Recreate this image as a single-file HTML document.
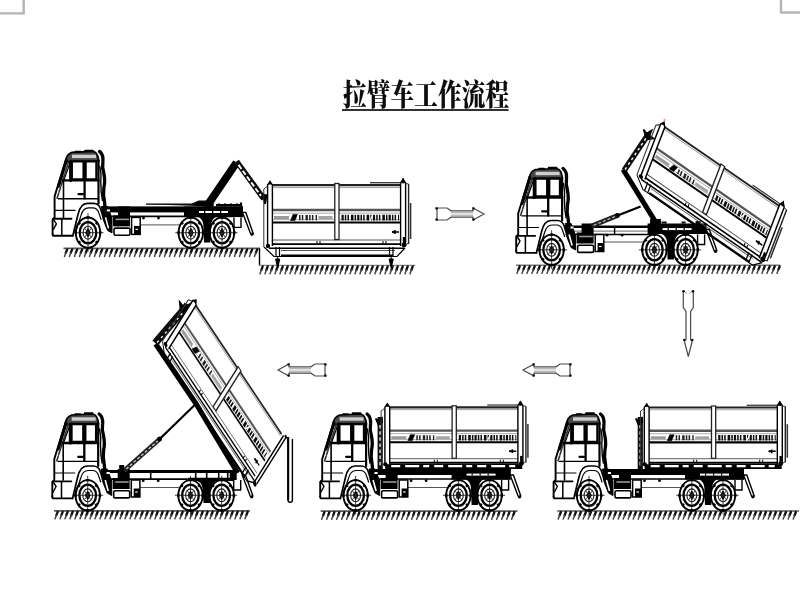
<!DOCTYPE html>
<html lang="zh"><head><meta charset="utf-8"><title>拉臂车工作流程</title>
<style>
html,body{margin:0;padding:0;background:#fff;}
body{width:800px;height:600px;overflow:hidden;position:relative;}
svg{position:absolute;left:0;top:0;display:block;}
.title{font-family:"Liberation Serif","Noto Serif CJK SC",serif;font-weight:900;font-size:23.6px;fill:#111;}
</style></head><body>
<svg width="800" height="600" viewBox="0 0 800 600">
<defs>
<filter id="soft2" x="0" y="0" width="800" height="600" filterUnits="userSpaceOnUse"><feGaussianBlur stdDeviation="0.35"/></filter>
<filter id="soft" x="0" y="0" width="800" height="600" filterUnits="userSpaceOnUse"><feGaussianBlur stdDeviation="0.55"/></filter>
<g id="w">
<g transform="translate(0,-15.7)">
<ellipse rx="12.2" ry="15.2" fill="#fff" stroke="#000" stroke-width="1.9"/>
<ellipse rx="8.3" ry="10.6" fill="none" stroke="#000" stroke-width="2.3"/>
<ellipse rx="4.9" ry="6.4" fill="none" stroke="#222" stroke-width="1.1"/>
<path d="M0,-4.2 L2.4,0 L0,4.2 L-2.4,0 Z" fill="#000" stroke="#000" stroke-width="1"/>
<path d="M0,-19.5 V19 M-15.5,0 H15.5" stroke="#111" stroke-width="0.8"/>
<path d="M-3.4,-4.6 L3.4,4.6 M3.4,-4.6 L-3.4,4.6" stroke="#333" stroke-width="0.9"/>
<path d="M-12.2,-1.6 v3.2 M12.2,-1.6 v3.2 M-1.6,-15.2 h3.2 M-1.6,15.2 h3.2 M-9.4,-10.4 l1.6,1.8 M9.4,-10.4 l-1.6,1.8 M-9.4,10.4 l1.6,-1.8 M9.4,10.4 l-1.6,-1.8" stroke="#000" stroke-width="2.4"/>
</g></g>

<g id="cab" fill="none" stroke="#000" stroke-linecap="round" stroke-linejoin="round">
<!-- cab body white backing -->
<path d="M-21,-90 L-33.4,-52 V-31 L-35.6,-28 V-13 H-15 L-9,-38 Q-7,-46 -1,-46 H7 Q10,-46 10.5,-44 V-90 Z" fill="#fff" stroke="none"/>
<!-- roof (dark band) -->
<path d="M-22.5,-86.5 Q-22,-94 -16,-96 L5,-97 Q10,-96.5 10.8,-87 Z" fill="#4a4a4a" stroke-width="1.7"/>
<path d="M-16,-92 H8" stroke="#cfcfcf" stroke-width="3.4" stroke-linecap="butt"/>
<path d="M-12.5,-96.8 H-7.5 M-3,-97.8 H5" stroke-width="1.8"/>
<!-- A pillar / front slope -->
<path d="M-22,-89 L-33.4,-52 V-31 L-35.4,-29 V-14.5" stroke-width="1.9"/>
<path d="M-21.6,-88 L-29.5,-62" stroke-width="3"/>
<path d="M-19.6,-86 L-31,-50" stroke-width="1.6" stroke="#333" stroke-dasharray="5 1.5"/>
<path d="M-17.8,-86 L-24.5,-67" stroke-width="1.2"/>
<path d="M-17.3,-87 V-68" stroke-width="3.2"/>
<!-- windows -->
<rect x="-16.2" y="-87" width="11.8" height="18" fill="#fff" stroke-width="2.3"/>
<rect x="-2.4" y="-87" width="10.8" height="18" fill="#fff" stroke-width="2.3"/>
<!-- window bottom bar -->
<path d="M-25,-68 H10.5" stroke-width="2.4"/>
<!-- pillar -->
<path d="M-3.4,-86 V-50" stroke-width="2.3"/>
<!-- door handle -->
<path d="M-9.5,-54.2 H-5" stroke-width="2.2"/>
<!-- door front edge -->
<path d="M-24.5,-67 V-31" stroke-width="1.6"/>
<!-- horizontal lines -->
<path d="M-29.6,-49.6 H10" stroke-width="1.4"/>
<path d="M-32.5,-38 H-13" stroke-width="1.2"/>
<path d="M-34.6,-29.6 H-16.5" stroke-width="1.9"/>
<!-- bumper -->
<path d="M-35.4,-14.5 Q-35.4,-12.6 -34,-12.6 H-15.2" stroke-width="1.9"/>
<path d="M-26.2,-29 V-13" stroke-width="1.5"/>
<path d="M-34.6,-29 l3,4.5 l-3,5.5" stroke-width="1.4"/>
<!-- wheel arch -->
<path d="M-15.2,-12.6 L-10,-34 Q-7.5,-45 -0.5,-45 H5.5 Q11,-45 12.8,-39 L15.8,-29" stroke-width="1.7"/>
<path d="M-12,-17 L-7,-33 Q-5,-40.5 0.5,-40.5 H4.5 Q9.5,-40.5 11,-35 L13,-29" stroke-width="1.2"/>
<!-- back wall -->
<path d="M10.5,-88 V-45" stroke-width="2.2"/>
<!-- exhaust/air stack -->
<path d="M11.5,-97 q4,3 3.4,10 q-1,6 1,12 q1.5,8 0,14 q-1,8 0.6,14 l0.8,9" stroke-width="3.3"/>
<path d="M11.8,-82 q2,8 1,16 q0,10 1.6,18" stroke-width="1.4"/>
</g>

<g id="box" fill="none" stroke="#000">
<rect x="2.5" y="-2" width="141" height="62" fill="#fff" stroke="none"/>
<!-- top rail -->
<path d="M7,0.2 H136" stroke-width="2.2" stroke="#222"/>
<path d="M7,2.6 H136" stroke-width="0.8" stroke="#888"/>
<!-- band -->
<path d="M7,25 H136" stroke-width="2.6" stroke="#555"/>
<path d="M7,28.2 H136" stroke-width="1" stroke="#aaa"/>
<path d="M7,37.5 H136" stroke-width="2.2"/>
<path d="M7,34.6 H136" stroke-width="0.8" stroke="#999"/>
<!-- lettering marks -->
<path d="M9,32.6 H24" stroke="#9a9a9a" stroke-width="3.2"/>
<path d="M28,29.4 l-2.4,6.2 h4.4 l2.4,-6.2 z" fill="#000" stroke-width="0.6"/>
<path d="M34,32.6 H52" stroke="#222" stroke-width="5.4" stroke-dasharray="1.5 1.3 1.5 2.2 2.4 1.2"/>
<path d="M53.5,32.6 H67.5" stroke="#a5a5a5" stroke-width="3.2"/>
<path d="M76.5,32.6 H134" stroke="#0a0a0a" stroke-width="5.8" stroke-dasharray="2.2 1.1 1.5 1.2 1.5 1.9 2.6 1.1 1.5 1.1"/>
<path d="M105,36 l3,-7" stroke="#fff" stroke-width="1.2"/>
<!-- bottom rails -->
<path d="M7,55 H136" stroke-width="0.9" stroke="#444"/>
<path d="M7,59.2 H136" stroke-width="1.8"/>
<path d="M52,56 v3 M55,56 v3 M118,56 v3 M121,56 v3" stroke-width="1" />
<!-- middle post -->
<rect x="69.8" y="-1.5" width="4.2" height="56" fill="#fff" stroke-width="1.3" stroke="#222"/>
<!-- front post -->
<path d="M2.6,61 V0 L5,-3.5 L7.4,0 V61" fill="#fff" stroke-width="1.4"/>
<path d="M3.8,-1 L5,-4 L6.2,-1 z" fill="#000" stroke-width="1"/>
<path d="M-1.2,4 V62" stroke-width="1" stroke="#333"/>
<path d="M-1.2,4 L2.6,1" stroke-width="1" stroke="#333"/>
<!-- latch -->
<path d="M127,47 H134 M130,45 V49" stroke-width="1.6"/>
<circle cx="128" cy="47" r="1.2" fill="#000" stroke="none"/>
<!-- corner blobs -->
<circle cx="3" cy="61" r="2.2" fill="#000" stroke="none"/>
</g>

<g id="rear" fill="none" stroke="#000">
<path d="M135.6,61 V-2 L138.1,-5.8 L140.6,-2 V61" fill="#fff" stroke-width="1.4"/>
<path d="M136.6,-2.2 L138.1,-6.6 L139.6,-2.2 z" fill="#000" stroke-width="1"/>
<path d="M143.6,-1 V59" stroke-width="1.4" stroke="#222"/>
<path d="M140.6,-1.5 L143.6,-1 M140.6,60 L143.6,58" stroke-width="1" stroke="#333"/>
<path d="M145.6,18 V54" stroke-width="1.5" stroke="#333"/>
<path d="M105,-2.3 H135.6" stroke-width="1.3" stroke="#333"/>
<circle cx="139" cy="60" r="2.4" fill="#000" stroke="none"/>
<path d="M139,52 V62" stroke-width="2.4"/>
</g>
<g id="rearopen" fill="none" stroke="#000">
<path d="M138.2,-1 V64 M141,-2 V63" stroke-width="1.3" fill="#fff"/>
<circle cx="139.4" cy="65" r="2.3" fill="#000" stroke="none"/>
<circle cx="140.5" cy="-2.5" r="1.6" fill="#000" stroke="none"/>
</g>

<g id="skid" fill="none" stroke="#000">
<path d="M-1,62 L9,71.5 H132 L140,63" stroke-width="1.2"/>
<path d="M4,63.2 H139" stroke-width="1.6"/>
<path d="M16,65.5 H130" stroke-width="1" stroke="#555"/>
<path d="M16,70.6 H128" stroke-width="2.2"/>
<path d="M11,62 V72 M14.5,62 V72 M124.5,62 V72 M128,62 V72" stroke-width="1.2"/>
</g>
</defs>
<rect width="800" height="600" fill="#fff"/>
<g filter="url(#soft2)"><g transform="translate(343,0) scale(1,1.25)"><text class="title" x="0" y="84" textLength="166" lengthAdjust="spacing">拉臂车工作流程</text></g>
<path d="M342,110 H508.5" stroke="#333" stroke-width="2.2"/></g>
<g id="drawing" filter="url(#soft)">
<path d="M0,13.4 H23.7 V0" fill="none" stroke="#b4b4b4" stroke-width="2.4" stroke-linejoin="round"/><path d="M800,12.5 H781 V0" fill="none" stroke="#b4b4b4" stroke-width="2.4" stroke-linejoin="round"/><path d="M63.5,248.4 H260" stroke="#5a5a5a" stroke-width="1.7"/><path d="M67.2,249.4 L65.8,252.8 M72.2,249.4 L70.8,252.8 M77.2,249.4 L75.8,252.8 M82.2,249.4 L80.8,252.8 M87.2,249.4 L85.8,252.8 M92.2,249.4 L90.8,252.8 M97.2,249.4 L95.8,252.8 M102.2,249.4 L100.8,252.8 M107.2,249.4 L105.8,252.8 M112.2,249.4 L110.8,252.8 M117.2,249.4 L115.8,252.8 M122.2,249.4 L120.8,252.8 M127.2,249.4 L125.8,252.8 M132.2,249.4 L130.8,252.8 M137.2,249.4 L135.8,252.8 M142.2,249.4 L140.8,252.8 M147.2,249.4 L145.8,252.8 M152.2,249.4 L150.8,252.8 M157.2,249.4 L155.8,252.8 M162.2,249.4 L160.8,252.8 M167.2,249.4 L165.8,252.8 M172.2,249.4 L170.8,252.8 M177.2,249.4 L175.8,252.8 M182.2,249.4 L180.8,252.8 M187.2,249.4 L185.8,252.8 M192.2,249.4 L190.8,252.8 M197.2,249.4 L195.8,252.8 M202.2,249.4 L200.8,252.8 M207.2,249.4 L205.8,252.8 M212.2,249.4 L210.8,252.8 M217.2,249.4 L215.8,252.8 M222.2,249.4 L220.8,252.8 M227.2,249.4 L225.8,252.8 M232.2,249.4 L230.8,252.8 M237.2,249.4 L235.8,252.8 M242.2,249.4 L240.8,252.8 M247.2,249.4 L245.8,252.8 M252.2,249.4 L250.8,252.8 M257.2,249.4 L255.8,252.8" stroke="#111" stroke-width="2.3" fill="none" stroke-linecap="round"/><path d="M65.8,252.8 L64.5,256.4 M70.8,252.8 L69.5,256.4 M75.8,252.8 L74.5,256.4 M80.8,252.8 L79.5,256.4 M85.8,252.8 L84.5,256.4 M90.8,252.8 L89.5,256.4 M95.8,252.8 L94.5,256.4 M100.8,252.8 L99.5,256.4 M105.8,252.8 L104.5,256.4 M110.8,252.8 L109.5,256.4 M115.8,252.8 L114.5,256.4 M120.8,252.8 L119.5,256.4 M125.8,252.8 L124.5,256.4 M130.8,252.8 L129.5,256.4 M135.8,252.8 L134.5,256.4 M140.8,252.8 L139.5,256.4 M145.8,252.8 L144.5,256.4 M150.8,252.8 L149.5,256.4 M155.8,252.8 L154.5,256.4 M160.8,252.8 L159.5,256.4 M165.8,252.8 L164.5,256.4 M170.8,252.8 L169.5,256.4 M175.8,252.8 L174.5,256.4 M180.8,252.8 L179.5,256.4 M185.8,252.8 L184.5,256.4 M190.8,252.8 L189.5,256.4 M195.8,252.8 L194.5,256.4 M200.8,252.8 L199.5,256.4 M205.8,252.8 L204.5,256.4 M210.8,252.8 L209.5,256.4 M215.8,252.8 L214.5,256.4 M220.8,252.8 L219.5,256.4 M225.8,252.8 L224.5,256.4 M230.8,252.8 L229.5,256.4 M235.8,252.8 L234.5,256.4 M240.8,252.8 L239.5,256.4 M245.8,252.8 L244.5,256.4 M250.8,252.8 L249.5,256.4 M255.8,252.8 L254.5,256.4" stroke="#444" stroke-width="1.5" fill="none" stroke-linecap="round"/><path d="M259.5,248.4 V265.5" stroke="#000" stroke-width="1.4"/><path d="M259,265.4 H415.4" stroke="#888" stroke-width="1.3"/><path d="M262.7,266.4 L261.4,270.0 M267.7,266.4 L266.4,270.0 M272.7,266.4 L271.4,270.0 M277.7,266.4 L276.4,270.0 M282.7,266.4 L281.4,270.0 M287.7,266.4 L286.4,270.0 M292.7,266.4 L291.4,270.0 M297.7,266.4 L296.4,270.0 M302.7,266.4 L301.4,270.0 M307.7,266.4 L306.4,270.0 M312.7,266.4 L311.4,270.0 M317.7,266.4 L316.4,270.0 M322.7,266.4 L321.4,270.0 M327.7,266.4 L326.4,270.0 M332.7,266.4 L331.4,270.0 M337.7,266.4 L336.4,270.0 M342.7,266.4 L341.4,270.0 M347.7,266.4 L346.4,270.0 M352.7,266.4 L351.4,270.0 M357.7,266.4 L356.4,270.0 M362.7,266.4 L361.4,270.0 M367.7,266.4 L366.4,270.0 M372.7,266.4 L371.4,270.0 M377.7,266.4 L376.4,270.0 M382.7,266.4 L381.4,270.0 M387.7,266.4 L386.4,270.0 M392.7,266.4 L391.4,270.0 M397.7,266.4 L396.4,270.0 M402.7,266.4 L401.4,270.0 M407.7,266.4 L406.4,270.0 M412.7,266.4 L411.4,270.0" stroke="#111" stroke-width="2.3" fill="none" stroke-linecap="round"/><path d="M261.4,270.0 L260.0,273.8 M266.4,270.0 L265.0,273.8 M271.4,270.0 L270.0,273.8 M276.4,270.0 L275.0,273.8 M281.4,270.0 L280.0,273.8 M286.4,270.0 L285.0,273.8 M291.4,270.0 L290.0,273.8 M296.4,270.0 L295.0,273.8 M301.4,270.0 L300.0,273.8 M306.4,270.0 L305.0,273.8 M311.4,270.0 L310.0,273.8 M316.4,270.0 L315.0,273.8 M321.4,270.0 L320.0,273.8 M326.4,270.0 L325.0,273.8 M331.4,270.0 L330.0,273.8 M336.4,270.0 L335.0,273.8 M341.4,270.0 L340.0,273.8 M346.4,270.0 L345.0,273.8 M351.4,270.0 L350.0,273.8 M356.4,270.0 L355.0,273.8 M361.4,270.0 L360.0,273.8 M366.4,270.0 L365.0,273.8 M371.4,270.0 L370.0,273.8 M376.4,270.0 L375.0,273.8 M381.4,270.0 L380.0,273.8 M386.4,270.0 L385.0,273.8 M391.4,270.0 L390.0,273.8 M396.4,270.0 L395.0,273.8 M401.4,270.0 L400.0,273.8 M406.4,270.0 L405.0,273.8 M411.4,270.0 L410.0,273.8" stroke="#444" stroke-width="1.5" fill="none" stroke-linecap="round"/><path d="M516,265.3 H780" stroke="#777" stroke-width="1.5"/><path d="M519.7,266.3 L518.4,269.7 M524.7,266.3 L523.4,269.7 M529.7,266.3 L528.4,269.7 M534.7,266.3 L533.4,269.7 M539.7,266.3 L538.4,269.7 M544.7,266.3 L543.4,269.7 M549.7,266.3 L548.4,269.7 M554.7,266.3 L553.4,269.7 M559.7,266.3 L558.4,269.7 M564.7,266.3 L563.4,269.7 M569.7,266.3 L568.4,269.7 M574.7,266.3 L573.4,269.7 M579.7,266.3 L578.4,269.7 M584.7,266.3 L583.4,269.7 M589.7,266.3 L588.4,269.7 M594.7,266.3 L593.4,269.7 M599.7,266.3 L598.4,269.7 M604.7,266.3 L603.4,269.7 M609.7,266.3 L608.4,269.7 M614.7,266.3 L613.4,269.7 M619.7,266.3 L618.4,269.7 M624.7,266.3 L623.4,269.7 M629.7,266.3 L628.4,269.7 M634.7,266.3 L633.4,269.7 M639.7,266.3 L638.4,269.7 M644.7,266.3 L643.4,269.7 M649.7,266.3 L648.4,269.7 M654.7,266.3 L653.4,269.7 M659.7,266.3 L658.4,269.7 M664.7,266.3 L663.4,269.7 M669.7,266.3 L668.4,269.7 M674.7,266.3 L673.4,269.7 M679.7,266.3 L678.4,269.7 M684.7,266.3 L683.4,269.7 M689.7,266.3 L688.4,269.7 M694.7,266.3 L693.4,269.7 M699.7,266.3 L698.4,269.7 M704.7,266.3 L703.4,269.7 M709.7,266.3 L708.4,269.7 M714.7,266.3 L713.4,269.7 M719.7,266.3 L718.4,269.7 M724.7,266.3 L723.4,269.7 M729.7,266.3 L728.4,269.7 M734.7,266.3 L733.4,269.7 M739.7,266.3 L738.4,269.7 M744.7,266.3 L743.4,269.7 M749.7,266.3 L748.4,269.7 M754.7,266.3 L753.4,269.7 M759.7,266.3 L758.4,269.7 M764.7,266.3 L763.4,269.7 M769.7,266.3 L768.4,269.7 M774.7,266.3 L773.4,269.7 M779.7,266.3 L778.4,269.7" stroke="#111" stroke-width="2.3" fill="none" stroke-linecap="round"/><path d="M518.4,269.7 L517.0,273.3 M523.4,269.7 L522.0,273.3 M528.4,269.7 L527.0,273.3 M533.4,269.7 L532.0,273.3 M538.4,269.7 L537.0,273.3 M543.4,269.7 L542.0,273.3 M548.4,269.7 L547.0,273.3 M553.4,269.7 L552.0,273.3 M558.4,269.7 L557.0,273.3 M563.4,269.7 L562.0,273.3 M568.4,269.7 L567.0,273.3 M573.4,269.7 L572.0,273.3 M578.4,269.7 L577.0,273.3 M583.4,269.7 L582.0,273.3 M588.4,269.7 L587.0,273.3 M593.4,269.7 L592.0,273.3 M598.4,269.7 L597.0,273.3 M603.4,269.7 L602.0,273.3 M608.4,269.7 L607.0,273.3 M613.4,269.7 L612.0,273.3 M618.4,269.7 L617.0,273.3 M623.4,269.7 L622.0,273.3 M628.4,269.7 L627.0,273.3 M633.4,269.7 L632.0,273.3 M638.4,269.7 L637.0,273.3 M643.4,269.7 L642.0,273.3 M648.4,269.7 L647.0,273.3 M653.4,269.7 L652.0,273.3 M658.4,269.7 L657.0,273.3 M663.4,269.7 L662.0,273.3 M668.4,269.7 L667.0,273.3 M673.4,269.7 L672.0,273.3 M678.4,269.7 L677.0,273.3 M683.4,269.7 L682.0,273.3 M688.4,269.7 L687.0,273.3 M693.4,269.7 L692.0,273.3 M698.4,269.7 L697.0,273.3 M703.4,269.7 L702.0,273.3 M708.4,269.7 L707.0,273.3 M713.4,269.7 L712.0,273.3 M718.4,269.7 L717.0,273.3 M723.4,269.7 L722.0,273.3 M728.4,269.7 L727.0,273.3 M733.4,269.7 L732.0,273.3 M738.4,269.7 L737.0,273.3 M743.4,269.7 L742.0,273.3 M748.4,269.7 L747.0,273.3 M753.4,269.7 L752.0,273.3 M758.4,269.7 L757.0,273.3 M763.4,269.7 L762.0,273.3 M768.4,269.7 L767.0,273.3 M773.4,269.7 L772.0,273.3 M778.4,269.7 L777.0,273.3" stroke="#444" stroke-width="1.5" fill="none" stroke-linecap="round"/><path d="M54,510.8 H250" stroke="#5a5a5a" stroke-width="1.7"/><path d="M57.7,511.8 L56.4,515.2 M62.7,511.8 L61.4,515.2 M67.7,511.8 L66.3,515.2 M72.7,511.8 L71.3,515.2 M77.7,511.8 L76.3,515.2 M82.7,511.8 L81.3,515.2 M87.7,511.8 L86.3,515.2 M92.7,511.8 L91.3,515.2 M97.7,511.8 L96.3,515.2 M102.7,511.8 L101.3,515.2 M107.7,511.8 L106.3,515.2 M112.7,511.8 L111.3,515.2 M117.7,511.8 L116.3,515.2 M122.7,511.8 L121.3,515.2 M127.7,511.8 L126.3,515.2 M132.7,511.8 L131.3,515.2 M137.7,511.8 L136.3,515.2 M142.7,511.8 L141.3,515.2 M147.7,511.8 L146.3,515.2 M152.7,511.8 L151.3,515.2 M157.7,511.8 L156.3,515.2 M162.7,511.8 L161.3,515.2 M167.7,511.8 L166.3,515.2 M172.7,511.8 L171.3,515.2 M177.7,511.8 L176.3,515.2 M182.7,511.8 L181.3,515.2 M187.7,511.8 L186.3,515.2 M192.7,511.8 L191.3,515.2 M197.7,511.8 L196.3,515.2 M202.7,511.8 L201.3,515.2 M207.7,511.8 L206.3,515.2 M212.7,511.8 L211.3,515.2 M217.7,511.8 L216.3,515.2 M222.7,511.8 L221.3,515.2 M227.7,511.8 L226.3,515.2 M232.7,511.8 L231.3,515.2 M237.7,511.8 L236.3,515.2 M242.7,511.8 L241.3,515.2 M247.7,511.8 L246.3,515.2" stroke="#111" stroke-width="2.3" fill="none" stroke-linecap="round"/><path d="M56.4,515.2 L55.0,518.8 M61.4,515.2 L60.0,518.8 M66.3,515.2 L65.0,518.8 M71.3,515.2 L70.0,518.8 M76.3,515.2 L75.0,518.8 M81.3,515.2 L80.0,518.8 M86.3,515.2 L85.0,518.8 M91.3,515.2 L90.0,518.8 M96.3,515.2 L95.0,518.8 M101.3,515.2 L100.0,518.8 M106.3,515.2 L105.0,518.8 M111.3,515.2 L110.0,518.8 M116.3,515.2 L115.0,518.8 M121.3,515.2 L120.0,518.8 M126.3,515.2 L125.0,518.8 M131.3,515.2 L130.0,518.8 M136.3,515.2 L135.0,518.8 M141.3,515.2 L140.0,518.8 M146.3,515.2 L145.0,518.8 M151.3,515.2 L150.0,518.8 M156.3,515.2 L155.0,518.8 M161.3,515.2 L160.0,518.8 M166.3,515.2 L165.0,518.8 M171.3,515.2 L170.0,518.8 M176.3,515.2 L175.0,518.8 M181.3,515.2 L180.0,518.8 M186.3,515.2 L185.0,518.8 M191.3,515.2 L190.0,518.8 M196.3,515.2 L195.0,518.8 M201.3,515.2 L200.0,518.8 M206.3,515.2 L205.0,518.8 M211.3,515.2 L210.0,518.8 M216.3,515.2 L215.0,518.8 M221.3,515.2 L220.0,518.8 M226.3,515.2 L225.0,518.8 M231.3,515.2 L230.0,518.8 M236.3,515.2 L235.0,518.8 M241.3,515.2 L240.0,518.8 M246.3,515.2 L245.0,518.8" stroke="#444" stroke-width="1.5" fill="none" stroke-linecap="round"/><path d="M320.7,511.2 H517.5" stroke="#5a5a5a" stroke-width="1.7"/><path d="M324.4,512.2 L323.1,515.6 M329.4,512.2 L328.1,515.6 M334.4,512.2 L333.1,515.6 M339.4,512.2 L338.1,515.6 M344.4,512.2 L343.1,515.6 M349.4,512.2 L348.1,515.6 M354.4,512.2 L353.1,515.6 M359.4,512.2 L358.1,515.6 M364.4,512.2 L363.1,515.6 M369.4,512.2 L368.1,515.6 M374.4,512.2 L373.1,515.6 M379.4,512.2 L378.1,515.6 M384.4,512.2 L383.1,515.6 M389.4,512.2 L388.1,515.6 M394.4,512.2 L393.1,515.6 M399.4,512.2 L398.1,515.6 M404.4,512.2 L403.1,515.6 M409.4,512.2 L408.1,515.6 M414.4,512.2 L413.1,515.6 M419.4,512.2 L418.1,515.6 M424.4,512.2 L423.1,515.6 M429.4,512.2 L428.1,515.6 M434.4,512.2 L433.1,515.6 M439.4,512.2 L438.1,515.6 M444.4,512.2 L443.1,515.6 M449.4,512.2 L448.1,515.6 M454.4,512.2 L453.1,515.6 M459.4,512.2 L458.1,515.6 M464.4,512.2 L463.1,515.6 M469.4,512.2 L468.1,515.6 M474.4,512.2 L473.1,515.6 M479.4,512.2 L478.1,515.6 M484.4,512.2 L483.1,515.6 M489.4,512.2 L488.1,515.6 M494.4,512.2 L493.1,515.6 M499.4,512.2 L498.1,515.6 M504.4,512.2 L503.1,515.6 M509.4,512.2 L508.1,515.6 M514.4,512.2 L513.0,515.6" stroke="#111" stroke-width="2.3" fill="none" stroke-linecap="round"/><path d="M323.1,515.6 L321.7,519.2 M328.1,515.6 L326.7,519.2 M333.1,515.6 L331.7,519.2 M338.1,515.6 L336.7,519.2 M343.1,515.6 L341.7,519.2 M348.1,515.6 L346.7,519.2 M353.1,515.6 L351.7,519.2 M358.1,515.6 L356.7,519.2 M363.1,515.6 L361.7,519.2 M368.1,515.6 L366.7,519.2 M373.1,515.6 L371.7,519.2 M378.1,515.6 L376.7,519.2 M383.1,515.6 L381.7,519.2 M388.1,515.6 L386.7,519.2 M393.1,515.6 L391.7,519.2 M398.1,515.6 L396.7,519.2 M403.1,515.6 L401.7,519.2 M408.1,515.6 L406.7,519.2 M413.1,515.6 L411.7,519.2 M418.1,515.6 L416.7,519.2 M423.1,515.6 L421.7,519.2 M428.1,515.6 L426.7,519.2 M433.1,515.6 L431.7,519.2 M438.1,515.6 L436.7,519.2 M443.1,515.6 L441.7,519.2 M448.1,515.6 L446.7,519.2 M453.1,515.6 L451.7,519.2 M458.1,515.6 L456.7,519.2 M463.1,515.6 L461.7,519.2 M468.1,515.6 L466.7,519.2 M473.1,515.6 L471.7,519.2 M478.1,515.6 L476.7,519.2 M483.1,515.6 L481.7,519.2 M488.1,515.6 L486.7,519.2 M493.1,515.6 L491.7,519.2 M498.1,515.6 L496.7,519.2 M503.1,515.6 L501.7,519.2 M508.1,515.6 L506.7,519.2 M513.0,515.6 L511.7,519.2" stroke="#444" stroke-width="1.5" fill="none" stroke-linecap="round"/><path d="M557.2,511 H799" stroke="#5a5a5a" stroke-width="1.7"/><path d="M560.9,512.0 L559.6,515.4 M565.9,512.0 L564.6,515.4 M570.9,512.0 L569.6,515.4 M575.9,512.0 L574.6,515.4 M580.9,512.0 L579.6,515.4 M585.9,512.0 L584.6,515.4 M590.9,512.0 L589.6,515.4 M595.9,512.0 L594.6,515.4 M600.9,512.0 L599.6,515.4 M605.9,512.0 L604.6,515.4 M610.9,512.0 L609.6,515.4 M615.9,512.0 L614.6,515.4 M620.9,512.0 L619.6,515.4 M625.9,512.0 L624.6,515.4 M630.9,512.0 L629.6,515.4 M635.9,512.0 L634.6,515.4 M640.9,512.0 L639.6,515.4 M645.9,512.0 L644.6,515.4 M650.9,512.0 L649.6,515.4 M655.9,512.0 L654.6,515.4 M660.9,512.0 L659.6,515.4 M665.9,512.0 L664.6,515.4 M670.9,512.0 L669.6,515.4 M675.9,512.0 L674.6,515.4 M680.9,512.0 L679.6,515.4 M685.9,512.0 L684.6,515.4 M690.9,512.0 L689.6,515.4 M695.9,512.0 L694.6,515.4 M700.9,512.0 L699.6,515.4 M705.9,512.0 L704.6,515.4 M710.9,512.0 L709.6,515.4 M715.9,512.0 L714.6,515.4 M720.9,512.0 L719.6,515.4 M725.9,512.0 L724.6,515.4 M730.9,512.0 L729.6,515.4 M735.9,512.0 L734.6,515.4 M740.9,512.0 L739.6,515.4 M745.9,512.0 L744.6,515.4 M750.9,512.0 L749.6,515.4 M755.9,512.0 L754.6,515.4 M760.9,512.0 L759.6,515.4 M765.9,512.0 L764.6,515.4 M770.9,512.0 L769.6,515.4 M775.9,512.0 L774.6,515.4 M780.9,512.0 L779.6,515.4 M785.9,512.0 L784.6,515.4 M790.9,512.0 L789.6,515.4 M795.9,512.0 L794.6,515.4" stroke="#111" stroke-width="2.3" fill="none" stroke-linecap="round"/><path d="M559.6,515.4 L558.2,519.0 M564.6,515.4 L563.2,519.0 M569.6,515.4 L568.2,519.0 M574.6,515.4 L573.2,519.0 M579.6,515.4 L578.2,519.0 M584.6,515.4 L583.2,519.0 M589.6,515.4 L588.2,519.0 M594.6,515.4 L593.2,519.0 M599.6,515.4 L598.2,519.0 M604.6,515.4 L603.2,519.0 M609.6,515.4 L608.2,519.0 M614.6,515.4 L613.2,519.0 M619.6,515.4 L618.2,519.0 M624.6,515.4 L623.2,519.0 M629.6,515.4 L628.2,519.0 M634.6,515.4 L633.2,519.0 M639.6,515.4 L638.2,519.0 M644.6,515.4 L643.2,519.0 M649.6,515.4 L648.2,519.0 M654.6,515.4 L653.2,519.0 M659.6,515.4 L658.2,519.0 M664.6,515.4 L663.2,519.0 M669.6,515.4 L668.2,519.0 M674.6,515.4 L673.2,519.0 M679.6,515.4 L678.2,519.0 M684.6,515.4 L683.2,519.0 M689.6,515.4 L688.2,519.0 M694.6,515.4 L693.2,519.0 M699.6,515.4 L698.2,519.0 M704.6,515.4 L703.2,519.0 M709.6,515.4 L708.2,519.0 M714.6,515.4 L713.2,519.0 M719.6,515.4 L718.2,519.0 M724.6,515.4 L723.2,519.0 M729.6,515.4 L728.2,519.0 M734.6,515.4 L733.2,519.0 M739.6,515.4 L738.2,519.0 M744.6,515.4 L743.2,519.0 M749.6,515.4 L748.2,519.0 M754.6,515.4 L753.2,519.0 M759.6,515.4 L758.2,519.0 M764.6,515.4 L763.2,519.0 M769.6,515.4 L768.2,519.0 M774.6,515.4 L773.2,519.0 M779.6,515.4 L778.2,519.0 M784.6,515.4 L783.2,519.0 M789.6,515.4 L788.2,519.0 M794.6,515.4 L793.2,519.0" stroke="#444" stroke-width="1.5" fill="none" stroke-linecap="round"/><g transform="translate(88,248.4)">
<g fill="none" stroke="#000">
<rect x="14" y="-42" width="141" height="6" fill="#000" stroke="none"/><path d="M18,-34.4 H31 M42,-34.4 H60 M75,-34.4 H96" stroke="#fff" stroke-width="2.2"/><path d="M14,-32 H155" stroke-width="1.7"/>
<path d="M52,-23.5 H92" stroke-width="1" stroke="#555"/>
<circle cx="55.5" cy="-30.3" r="1.4" fill="#000" stroke="none"/><circle cx="70.5" cy="-30.3" r="1.4" fill="#000" stroke="none"/>
<!-- wedge behind front wheel -->
<path d="M13.5,-42 L15.5,-28 L19.5,-18 L24,-15.5 V-30 L19.5,-42 Z" fill="#000" stroke-width="1"/><path d="M17.5,-31 L20.5,-20" stroke="#fff" stroke-width="1.6"/>
<path d="M16.5,-38 H22" stroke="#fff" stroke-width="2"/>
<!-- battery / tank boxes -->
<rect x="30" y="-42" width="12" height="20" fill="#000" stroke="none"/><rect x="25" y="-33" width="6" height="11" fill="#000" stroke="none"/>
<path d="M27.5,-29 H41" stroke="#999" stroke-width="1.6"/>
<rect x="26" y="-20.3" width="16" height="7.2" rx="1.5" fill="#fff" stroke-width="1.6"/>
<rect x="43.6" y="-31" width="8.6" height="17" fill="#fff" stroke-width="1.5"/>
<rect x="46" y="-22.5" width="6.2" height="8.5" fill="#000" stroke="none"/>
<path d="M47.5,-19 H50" stroke="#fff" stroke-width="1.2"/>
<!-- rear bogie -->
<path d="M96,-42 H155 V-31.5 H128 Q124,-30 123,-24 L122.3,-6 H116 L115.3,-24 Q114.5,-30 110,-31.5 H96 Z" fill="#000" stroke="none"/><path d="M111,-36.4 H140" stroke="#fff" stroke-width="2"/><path d="M116,-36.4 h1.2 M124,-36.4 h1.2 M132,-36.4 h1.2" stroke="#000" stroke-width="2"/>
<!-- rear under-run -->
<path d="M146,-31 V-21 H153 V-31" stroke-width="1.4" fill="#fff"/>
<path d="M154.5,-36 L162.5,-15 Q163.8,-12.5 165.2,-15 L157.8,-36 Z" stroke-width="1.4" fill="#fff"/>
<circle cx="164" cy="-14.2" r="1.6" fill="#000" stroke="none"/>
</g>
<g fill="none" stroke="#000">
<path d="M58,-44.2 H104 L111,-47.2 H125 V-42" stroke-width="1.3" fill="#000"/>
<path d="M115.5,-43 L145.5,-87 L151,-84 L122.5,-42 Z" fill="#000" stroke-width="1.5"/>
<path d="M148.6,-87 L175.8,-49.5" stroke-width="5.6" stroke="#0a0a0a"/>
<path d="M150.5,-83.5 L173,-52.5" stroke-width="1.9" stroke="#fff" stroke-dasharray="5 2.2"/>
<path d="M174.2,-55 L177.2,-44.5 L178.6,-54" stroke-width="1.8" fill="#000"/>
<path d="M128,-43.2 H153 M131,-44.8 v2 M137,-44.8 v2 M143,-44.8 v2 M149,-44.8 v2 M153,-46 v4" stroke-width="2.2"/>
</g><use href="#w" x="0"/><use href="#w" x="102.8"/><use href="#w" x="134"/><use href="#cab"/></g><g transform="matrix(1.0000,0.0000,0.0000,1.0000,265,185)"><use href="#skid"/><use href="#box"/><use href="#rear"/><path d="M12.7,71 V74 M10.6,74 L12.7,83 L14.8,74 Z" fill="#000" stroke="#000" stroke-width="1"/><path d="M126.2,71 V74 M124.1,74 L126.2,83 L128.3,74 Z" fill="#000" stroke="#000" stroke-width="1"/></g><g transform="translate(551.6,265.5)">
<g fill="none" stroke="#000">
<path d="M14,-38.8 H100" stroke-width="2.6"/><path d="M14,-34.4 H100" stroke-width="1.4" stroke="#888"/><path d="M14,-31 H100" stroke-width="1.5"/><path d="M38,-38 V-31 M63,-38 V-31" stroke-width="1.4"/>
<path d="M52,-23.5 H92" stroke-width="1" stroke="#555"/>
<circle cx="55.5" cy="-30.3" r="1.4" fill="#000" stroke="none"/><circle cx="70.5" cy="-30.3" r="1.4" fill="#000" stroke="none"/>
<!-- wedge behind front wheel -->
<path d="M13.5,-42 L15.5,-28 L19.5,-18 L24,-15.5 V-30 L19.5,-42 Z" fill="#000" stroke-width="1"/><path d="M17.5,-31 L20.5,-20" stroke="#fff" stroke-width="1.6"/>
<path d="M16.5,-38 H22" stroke="#fff" stroke-width="2"/>
<!-- battery / tank boxes -->
<rect x="30" y="-42" width="12" height="20" fill="#000" stroke="none"/><rect x="25" y="-33" width="6" height="11" fill="#000" stroke="none"/>
<path d="M27.5,-29 H41" stroke="#999" stroke-width="1.6"/>
<rect x="26" y="-20.3" width="16" height="7.2" rx="1.5" fill="#fff" stroke-width="1.6"/>
<rect x="43.6" y="-31" width="8.6" height="17" fill="#fff" stroke-width="1.5"/>
<rect x="46" y="-22.5" width="6.2" height="8.5" fill="#000" stroke="none"/>
<path d="M47.5,-19 H50" stroke="#fff" stroke-width="1.2"/>
<!-- rear bogie -->
<path d="M96,-42 H155 V-31.5 H128 Q124,-30 123,-24 L122.3,-6 H116 L115.3,-24 Q114.5,-30 110,-31.5 H96 Z" fill="#000" stroke="none"/><path d="M111,-36.4 H140" stroke="#fff" stroke-width="2"/><path d="M116,-36.4 h1.2 M124,-36.4 h1.2 M132,-36.4 h1.2" stroke="#000" stroke-width="2"/><path d="M110,-44 h5 v2 h-5 z M130,-44 h4 v2 h-4 z M144,-44.5 h5 v3 h-5 z" fill="#000" stroke="none"/>
<!-- rear under-run -->
<path d="M146,-31 V-21 H153 V-31" stroke-width="1.4" fill="#fff"/>
<path d="M154.5,-36 L162.5,-15 Q163.8,-12.5 165.2,-15 L157.8,-36 Z" stroke-width="1.4" fill="#fff"/>
<circle cx="164" cy="-14.2" r="1.6" fill="#000" stroke="none"/>
</g>
<g fill="none" stroke="#000">
<path d="M40,-39.5 L66,-50" stroke-width="4.6" stroke="#222"/>
<path d="M42,-40.2 L64,-49.2" stroke-width="1.2" stroke="#bbb" stroke-dasharray="3 2"/>
<path d="M66,-50 L89,-59" stroke-width="2.4"/>
<circle cx="66" cy="-50" r="2.4" fill="#000" stroke="none"/>
<path d="M71.5,-96 L104,-43.5" stroke-width="5.2"/>
<path d="M72.5,-95 L96.5,-131" stroke-width="5.8" stroke="#111"/>
<path d="M73.5,-96 L95.5,-129" stroke-width="1.4" stroke="#fff" stroke-dasharray="2.6 3.2"/>
<path d="M92,-136 l3,4 l5,-3 l-2,5 l4,3 l-6,1 l-2,-3 z" fill="#000" stroke-width="1.6"/>
<path d="M99,-46 H109 V-41 H99 Z" fill="#000" stroke-width="1"/>
</g><use href="#w" x="0"/><use href="#w" x="102.8"/><use href="#w" x="134"/><use href="#cab"/></g><g transform="matrix(0.8912,0.6147,-0.3283,0.8600,658.3,122.4)"><use href="#skid"/><use href="#box"/><use href="#rear"/></g><circle cx="664.5" cy="120" r="1.1" fill="#ff8a9a"/><g transform="translate(87.7,511)">
<g fill="none" stroke="#000">
<path d="M14,-39.6 H147" stroke-width="3"/><path d="M14,-31.8 H100" stroke-width="1.7"/><path d="M38,-38 V-32 M63,-38 V-32 M108,-38 V-32 M119,-38 V-32 M131,-38 V-32 M140,-38 V-32" stroke-width="1.6"/>
<path d="M52,-23.5 H92" stroke-width="1" stroke="#555"/>
<circle cx="55.5" cy="-30.3" r="1.4" fill="#000" stroke="none"/><circle cx="70.5" cy="-30.3" r="1.4" fill="#000" stroke="none"/>
<!-- wedge behind front wheel -->
<path d="M13.5,-42 L15.5,-28 L19.5,-18 L24,-15.5 V-30 L19.5,-42 Z" fill="#000" stroke-width="1"/><path d="M17.5,-31 L20.5,-20" stroke="#fff" stroke-width="1.6"/>
<path d="M16.5,-38 H22" stroke="#fff" stroke-width="2"/>
<!-- battery / tank boxes -->
<rect x="30" y="-42" width="12" height="20" fill="#000" stroke="none"/><rect x="25" y="-33" width="6" height="11" fill="#000" stroke="none"/>
<path d="M27.5,-29 H41" stroke="#999" stroke-width="1.6"/>
<rect x="26" y="-20.3" width="16" height="7.2" rx="1.5" fill="#fff" stroke-width="1.6"/>
<rect x="43.6" y="-31" width="8.6" height="17" fill="#fff" stroke-width="1.5"/>
<rect x="46" y="-22.5" width="6.2" height="8.5" fill="#000" stroke="none"/>
<path d="M47.5,-19 H50" stroke="#fff" stroke-width="1.2"/>
<!-- rear bogie -->
<path d="M100,-33.2 H147 V-30 H129 Q124.5,-29 123.5,-23 L122.4,-8 H115.8 L114.8,-23 Q114,-29 109,-30 H100 Z" fill="#000" stroke="none"/><path d="M142,-41 h7 v11 h-7 z" fill="#000" stroke="none"/>
<!-- rear under-run -->
<path d="M146,-31 V-21 H153 V-31" stroke-width="1.4" fill="#fff"/>
<path d="M154.5,-36 L162.5,-15 Q163.8,-12.5 165.2,-15 L157.8,-36 Z" stroke-width="1.4" fill="#fff"/>
<circle cx="164" cy="-14.2" r="1.6" fill="#000" stroke="none"/>
</g>
<g fill="none" stroke="#000">
<path d="M36,-40 L72,-72" stroke-width="4.4" stroke="#222"/>
<path d="M38.5,-42 L70,-70" stroke-width="1.3" stroke="#ccc" stroke-dasharray="3 2"/>
<path d="M72,-72 L108,-107" stroke-width="2.2"/>
<circle cx="72" cy="-72" r="2.4" fill="#000" stroke="none"/>
<path d="M68,-167 L108.5,-107 L150,-38" stroke-width="5.2" stroke-linejoin="round"/>
<path d="M67.5,-168 L100,-206" stroke-width="7.4" stroke="#111"/>
<path d="M69.5,-168.5 L100,-204" stroke-width="1.3" stroke="#fff" stroke-dasharray="2.4 3.6"/>
<path d="M92,-209 l4,5 l6,-3 l-2,6 l-7,2 z" fill="#000" stroke-width="1.6"/>
<path d="M34,-46 V-34" stroke-width="5"/>
</g><use href="#w" x="0"/><use href="#w" x="102.8"/><use href="#w" x="134"/><use href="#cab"/></g><g transform="matrix(0.6667,1.0000,-0.4483,0.7133,191,298)"><use href="#skid"/><use href="#box"/><use href="#rearopen"/></g><path d="M288,437 V500 Q288,502.2 290.2,502.2 Q292.4,502.2 292.4,500 V439" fill="#fff" stroke="#000" stroke-width="1.4"/><path d="M288.2,437 V500" stroke="#000" stroke-width="2"/><g transform="translate(355.6,511)">
<g fill="none" stroke="#000">
<rect x="14" y="-42" width="141" height="6" fill="#000" stroke="none"/><path d="M18,-34.4 H31 M42,-34.4 H60 M75,-34.4 H96" stroke="#fff" stroke-width="2.2"/><path d="M14,-32 H155" stroke-width="1.7"/>
<path d="M52,-23.5 H92" stroke-width="1" stroke="#555"/>
<circle cx="55.5" cy="-30.3" r="1.4" fill="#000" stroke="none"/><circle cx="70.5" cy="-30.3" r="1.4" fill="#000" stroke="none"/>
<!-- wedge behind front wheel -->
<path d="M13.5,-42 L15.5,-28 L19.5,-18 L24,-15.5 V-30 L19.5,-42 Z" fill="#000" stroke-width="1"/><path d="M17.5,-31 L20.5,-20" stroke="#fff" stroke-width="1.6"/>
<path d="M16.5,-38 H22" stroke="#fff" stroke-width="2"/>
<!-- battery / tank boxes -->
<rect x="30" y="-42" width="12" height="20" fill="#000" stroke="none"/><rect x="25" y="-33" width="6" height="11" fill="#000" stroke="none"/>
<path d="M27.5,-29 H41" stroke="#999" stroke-width="1.6"/>
<rect x="26" y="-20.3" width="16" height="7.2" rx="1.5" fill="#fff" stroke-width="1.6"/>
<rect x="43.6" y="-31" width="8.6" height="17" fill="#fff" stroke-width="1.5"/>
<rect x="46" y="-22.5" width="6.2" height="8.5" fill="#000" stroke="none"/>
<path d="M47.5,-19 H50" stroke="#fff" stroke-width="1.2"/>
<!-- rear bogie -->
<path d="M96,-42 H155 V-31.5 H128 Q124,-30 123,-24 L122.3,-6 H116 L115.3,-24 Q114.5,-30 110,-31.5 H96 Z" fill="#000" stroke="none"/><path d="M111,-36.4 H140" stroke="#fff" stroke-width="2"/><path d="M116,-36.4 h1.2 M124,-36.4 h1.2 M132,-36.4 h1.2" stroke="#000" stroke-width="2"/>
<!-- rear under-run -->
<path d="M146,-31 V-21 H153 V-31" stroke-width="1.4" fill="#fff"/>
<path d="M154.5,-36 L162.5,-15 Q163.8,-12.5 165.2,-15 L157.8,-36 Z" stroke-width="1.4" fill="#fff"/>
<circle cx="164" cy="-14.2" r="1.6" fill="#000" stroke="none"/>
</g><g fill="none" stroke="#000"><rect x="29.6" y="-48" width="137" height="6" fill="#000" stroke="none"/><path d="M35.6,-44.8 H160.6" stroke="#fff" stroke-width="2.2" stroke-dasharray="9 5 14 4 6 5"/><path d="M24.6,-94 V-42" stroke-width="5.2" stroke="#111"/><path d="M24.6,-92 V-44" stroke-width="1.6" stroke="#fff" stroke-dasharray="3.5 2.6"/><path d="M20.1,-92.5 l3,2.5 l3,-3 l0.5,4 l-4,2.5 z" fill="#000" stroke-width="1.6"/></g><use href="#w" x="0"/><use href="#w" x="102.8"/><use href="#w" x="134"/><use href="#cab"/></g><g transform="matrix(1.0000,0.0000,0.0000,0.9367,382.3,407.2)"><use href="#box"/><use href="#rear"/></g><g transform="translate(589,511)">
<g fill="none" stroke="#000">
<rect x="14" y="-42" width="141" height="6" fill="#000" stroke="none"/><path d="M18,-34.4 H31 M42,-34.4 H60 M75,-34.4 H96" stroke="#fff" stroke-width="2.2"/><path d="M14,-32 H155" stroke-width="1.7"/>
<path d="M52,-23.5 H92" stroke-width="1" stroke="#555"/>
<circle cx="55.5" cy="-30.3" r="1.4" fill="#000" stroke="none"/><circle cx="70.5" cy="-30.3" r="1.4" fill="#000" stroke="none"/>
<!-- wedge behind front wheel -->
<path d="M13.5,-42 L15.5,-28 L19.5,-18 L24,-15.5 V-30 L19.5,-42 Z" fill="#000" stroke-width="1"/><path d="M17.5,-31 L20.5,-20" stroke="#fff" stroke-width="1.6"/>
<path d="M16.5,-38 H22" stroke="#fff" stroke-width="2"/>
<!-- battery / tank boxes -->
<rect x="30" y="-42" width="12" height="20" fill="#000" stroke="none"/><rect x="25" y="-33" width="6" height="11" fill="#000" stroke="none"/>
<path d="M27.5,-29 H41" stroke="#999" stroke-width="1.6"/>
<rect x="26" y="-20.3" width="16" height="7.2" rx="1.5" fill="#fff" stroke-width="1.6"/>
<rect x="43.6" y="-31" width="8.6" height="17" fill="#fff" stroke-width="1.5"/>
<rect x="46" y="-22.5" width="6.2" height="8.5" fill="#000" stroke="none"/>
<path d="M47.5,-19 H50" stroke="#fff" stroke-width="1.2"/>
<!-- rear bogie -->
<path d="M96,-42 H155 V-31.5 H128 Q124,-30 123,-24 L122.3,-6 H116 L115.3,-24 Q114.5,-30 110,-31.5 H96 Z" fill="#000" stroke="none"/><path d="M111,-36.4 H140" stroke="#fff" stroke-width="2"/><path d="M116,-36.4 h1.2 M124,-36.4 h1.2 M132,-36.4 h1.2" stroke="#000" stroke-width="2"/>
<!-- rear under-run -->
<path d="M146,-31 V-21 H153 V-31" stroke-width="1.4" fill="#fff"/>
<path d="M154.5,-36 L162.5,-15 Q163.8,-12.5 165.2,-15 L157.8,-36 Z" stroke-width="1.4" fill="#fff"/>
<circle cx="164" cy="-14.2" r="1.6" fill="#000" stroke="none"/>
</g><g fill="none" stroke="#000"><rect x="55.7" y="-48" width="137" height="6" fill="#000" stroke="none"/><path d="M61.7,-44.8 H186.7" stroke="#fff" stroke-width="2.2" stroke-dasharray="9 5 14 4 6 5"/><path d="M51.3,-94 V-42" stroke-width="5.2" stroke="#111"/><path d="M51.3,-92 V-44" stroke-width="1.6" stroke="#fff" stroke-dasharray="3.5 2.6"/><path d="M46.8,-92.5 l3,2.5 l3,-3 l0.5,4 l-4,2.5 z" fill="#000" stroke-width="1.6"/></g><use href="#w" x="0"/><use href="#w" x="102.8"/><use href="#w" x="134"/><use href="#cab"/></g><g transform="matrix(1.0000,0.0000,0.0000,0.9333,641.7,407.4)"><use href="#box"/><use href="#rear"/></g><g transform="translate(436,214)"><path d="M0,-6 H11 L15,-3.2 H37 V-6 L48,0 L37,6 V3.2 H15 L11,6 H0 L1,3.5 V-3.5 Z" fill="#fff" stroke="#4a4a4a" stroke-width="1.2" stroke-linejoin="miter"/><path d="M15,-1.2 H37 M15,1.2 H37" stroke="#9a9a9a" stroke-width="1"/><circle cx="0.8" cy="-5.6" r="1.25" fill="#111"/><circle cx="0.8" cy="5.6" r="1.25" fill="#111"/><circle cx="37.5" cy="-5.6" r="1.25" fill="#111"/><circle cx="37.5" cy="5.6" r="1.25" fill="#111"/></g><g transform="translate(326,370) scale(-1,1)"><path d="M0,-6 H11 L15,-3.2 H37 V-6 L48,0 L37,6 V3.2 H15 L11,6 H0 L1,3.5 V-3.5 Z" fill="#fff" stroke="#4a4a4a" stroke-width="1.2" stroke-linejoin="miter"/><path d="M15,-1.2 H37 M15,1.2 H37" stroke="#9a9a9a" stroke-width="1"/><circle cx="0.8" cy="-5.6" r="1.25" fill="#111"/><circle cx="0.8" cy="5.6" r="1.25" fill="#111"/><circle cx="37.5" cy="-5.6" r="1.25" fill="#111"/><circle cx="37.5" cy="5.6" r="1.25" fill="#111"/></g><g transform="translate(571,370) scale(-1,1)"><path d="M0,-6 H11 L15,-3.2 H37 V-6 L48,0 L37,6 V3.2 H15 L11,6 H0 L1,3.5 V-3.5 Z" fill="#fff" stroke="#4a4a4a" stroke-width="1.2" stroke-linejoin="miter"/><path d="M15,-1.2 H37 M15,1.2 H37" stroke="#9a9a9a" stroke-width="1"/><circle cx="0.8" cy="-5.6" r="1.25" fill="#111"/><circle cx="0.8" cy="5.6" r="1.25" fill="#111"/><circle cx="37.5" cy="-5.6" r="1.25" fill="#111"/><circle cx="37.5" cy="5.6" r="1.25" fill="#111"/></g><g transform="translate(688.3,290.5) rotate(90)"><path d="M0,-5 H17 L21,-2.3 H49.5 V-4.2 L66,0 L49.5,4.2 V2.3 H21 L17,5 H0" fill="#fff" stroke="#4a4a4a" stroke-width="1.2" stroke-linejoin="miter"/><path d="M0,-4.8 L3.2,-1.2 M0,4.8 L3.2,1.2" stroke="#9a9a9a" stroke-width="1"/><circle cx="0.8" cy="-4.7" r="1.25" fill="#111"/><circle cx="0.8" cy="4.7" r="1.25" fill="#111"/><circle cx="49.5" cy="-4.0" r="1.25" fill="#111"/><circle cx="49.5" cy="4.0" r="1.25" fill="#111"/></g>
</g>
</svg>
</body></html>
